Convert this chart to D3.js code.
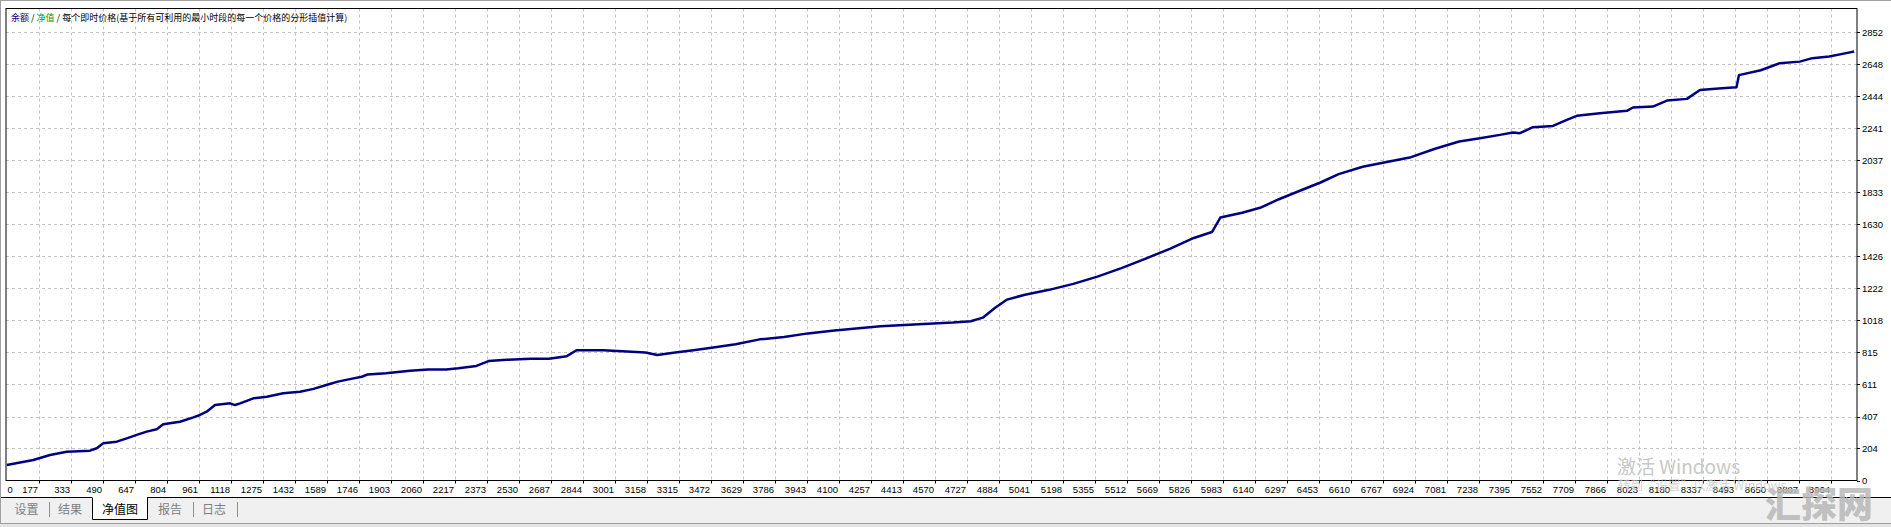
<!DOCTYPE html>
<html><head><meta charset="utf-8">
<script src="https://cdn.jsdelivr.net/npm/d3@7"></script>
<style>html,body{margin:0;padding:0;background:#fff;overflow:hidden}</style>
</head><body><svg id="c" width="1891" height="527"></svg>
<script>
// ---- data (trade number -> balance/equity) ----
const tradeNo = [19,149,231,313,427,460,492,558,607,656,705,754,786,868,934,966,999,1040,1114,1138,1163,1228,1294,1375,1457,1523,1582,1642,1701,1760,1789,1878,1996,2085,2174,2233,2322,2381,2470,2588,2677,2765,2813,2943,3061,3150,3209,3297,3386,3475,3593,3711,3830,3948,4066,4184,4303,4421,4539,4658,4746,4805,4864,4924,5012,5130,5249,5367,5485,5604,5722,5840,5929,5970,6077,6165,6254,6372,6461,6550,6668,6786,6905,7023,7141,7243,7341,7405,7439,7503,7601,7669,7718,7831,7964,7993,8091,8160,8258,8322,8413,8501,8513,8620,8713,8811,8873,8956,9039,9078];
const equity = [99,130,162,183,190,205,237,247,268,290,311,326,358,374,402,417,438,480,491,480,491,523,533,555,565,583,606,629,645,660,675,683,698,706,706,714,729,760,768,775,775,791,829,829,821,814,798,814,829,844,867,898,913,936,952,967,982,990,998,1005,1013,1036,1098,1151,1182,1213,1251,1297,1351,1412,1474,1543,1581,1673,1704,1735,1788,1850,1896,1949,1996,2026,2057,2111,2157,2178,2199,2214,2210,2248,2256,2294,2320,2337,2352,2373,2379,2417,2428,2485,2494,2502,2579,2610,2655,2665,2687,2697,2719,2729];
const xTickValues = [0,177,333,490,647,804,961,1118,1275,1432,1589,1746,1903,2060,2217,2373,2530,2687,2844,3001,3158,3315,3472,3629,3786,3943,4100,4257,4413,4570,4727,4884,5041,5198,5355,5512,5669,5826,5983,6140,6297,6453,6610,6767,6924,7081,7238,7395,7552,7709,7866,8023,8180,8337,8493,8650,8807,8964];
const yTickValues = [0,204,407,611,815,1018,1222,1426,1630,1833,2037,2241,2444,2648,2852];
const titleParts = [["余额","bal"],[" / ","txt"],["净值","eq"],[" / 每个即时价格(基于所有可利用的最小时段的每一个价格的分形插值计算)","txt"]];
const tabLabels = ["设置","结果","净值图","报告","日志"];
const activeTab = "净值图";

// ---- layout ----
const L = 6, R = 1857, T = 8.5, B = 480.5;
const svg = d3.select("#c");
const num = "'Liberation Sans', Arial, sans-serif";
const cjk = "'Noto Sans CJK SC', sans-serif";

svg.append("rect").attr("x",0).attr("y",0).attr("width",1891).attr("height",527).attr("fill","#fff");
svg.append("line").attr("x1",0).attr("x2",1891).attr("y1",0.5).attr("y2",0.5).attr("stroke","#a0a0a0");
svg.append("line").attr("x1",0.5).attr("x2",0.5).attr("y1",0).attr("y2",497).attr("stroke","#a0a0a0");

const x = d3.scaleLinear().domain([15, 9092]).range([L, R]).clamp(true);
const y = d3.scaleLinear().domain([0, 3003]).range([B, T]);

const g = svg.append("g");
g.selectAll("line.vg").data(xTickValues.filter(v=>v>0)).join("line")
  .attr("x1",d=>Math.round(x(d))+0.5).attr("x2",d=>Math.round(x(d))+0.5)
  .attr("y1",T).attr("y2",B).attr("stroke","#c4c4c4").attr("stroke-dasharray","3,3");
g.selectAll("line.hg").data(yTickValues.filter(v=>v>0)).join("line")
  .attr("y1",d=>Math.round(y(d))+0.5).attr("y2",d=>Math.round(y(d))+0.5)
  .attr("x1",L).attr("x2",R).attr("stroke","#c4c4c4").attr("stroke-dasharray","3,3");

const line = d3.line().x((d,i)=>x(tradeNo[i])).y((d,i)=>y(equity[i]));
g.append("path").attr("d", line(equity)).attr("fill","none")
  .attr("stroke","#000080").attr("stroke-width",2.5).attr("stroke-linejoin","round");

g.append("rect").attr("x",L).attr("y",T).attr("width",R-L).attr("height",B-T)
  .attr("fill","none").attr("stroke","#000").attr("stroke-width",1);

g.selectAll("line.xt").data(xTickValues.filter(v=>v>0)).join("line")
  .attr("x1",d=>Math.round(x(d))+0.5).attr("x2",d=>Math.round(x(d))+0.5)
  .attr("y1",B).attr("y2",B+3).attr("stroke","#000");
g.selectAll("text.xl").data(xTickValues).join("text")
  .attr("x",d=> d===0 ? L+1.5 : Math.round(x(d))-1)
  .attr("y",B+12).attr("text-anchor",d=>d===0?"start":"end")
  .attr("font-family",num).attr("font-size","9.5px").attr("fill","#000").text(d=>d);

g.selectAll("line.yt").data(yTickValues).join("line")
  .attr("y1",d=>Math.round(y(d))+0.5).attr("y2",d=>Math.round(y(d))+0.5)
  .attr("x1",R).attr("x2",R+3).attr("stroke","#000");
g.selectAll("text.yl").data(yTickValues).join("text")
  .attr("x",R+5).attr("y",d=>y(d)+3.5)
  .attr("font-family",num).attr("font-size","9.5px").attr("fill","#000").text(d=>d);

const colors = {bal:"#000080", eq:"#00a000", txt:"#000"};
const tt = svg.append("text").attr("x",11).attr("y",20.5).attr("font-family",cjk).attr("font-size","9px").attr("xml:space","preserve");
titleParts.forEach(p=>tt.append("tspan").attr("fill",colors[p[1]]).text(p[0]));

// tab bar
svg.append("rect").attr("x",0).attr("y",497.5).attr("width",1891).attr("height",30).attr("fill","#f0f0f0");
svg.append("line").attr("x1",0).attr("x2",92).attr("y1",497.5).attr("y2",497.5).attr("stroke","#000");
svg.append("line").attr("x1",147).attr("x2",1891).attr("y1",497.5).attr("y2",497.5).attr("stroke","#000");
svg.append("line").attr("x1",0).attr("x2",1891).attr("y1",523.5).attr("y2",523.5).attr("stroke","#a0a0a0");
svg.append("rect").attr("x",0).attr("y",524).attr("width",1891).attr("height",3).attr("fill","#e4e4e4");
svg.append("line").attr("x1",0.5).attr("x2",0.5).attr("y1",497).attr("y2",523).attr("stroke","#a0a0a0");
svg.append("path").attr("d","M92.5,497.5V519.5H147.5V497.5").attr("fill","#fff").attr("stroke","#000");
const tabX = [26.5, 70, 120, 170, 214];
const sepX = [49.5, 193.5, 237.5];
svg.selectAll("text.tab").data(tabLabels).join("text")
  .attr("x",(d,i)=>tabX[i]).attr("y",513.5).attr("text-anchor","middle")
  .attr("font-family",cjk).attr("font-size","12px")
  .attr("fill",d=>d===activeTab?"#000":"#808080").text(d=>d);
svg.selectAll("line.sep").data(sepX).join("line")
  .attr("x1",d=>d).attr("x2",d=>d).attr("y1",502).attr("y2",517).attr("stroke","#909090");

// watermarks
svg.append("text").attr("x",1617).attr("y",474).attr("font-family",cjk).attr("font-size","19px")
  .attr("fill","#c8c8c8").text("激活 Windows");
svg.append("text").attr("x",1618).attr("y",490).attr("font-family",cjk).attr("font-size","12.5px")
  .attr("fill","#c8c8c8").attr("fill-opacity",0.8).text("转到“设置”以激活 Windows。");
svg.append("text").attr("x",1819).attr("y",518).attr("text-anchor","middle").attr("font-family",cjk)
  .attr("font-size","36px").attr("font-weight","900").attr("fill","#b8b8b8").attr("fill-opacity",0.85).text("汇探网");
</script></body></html>
